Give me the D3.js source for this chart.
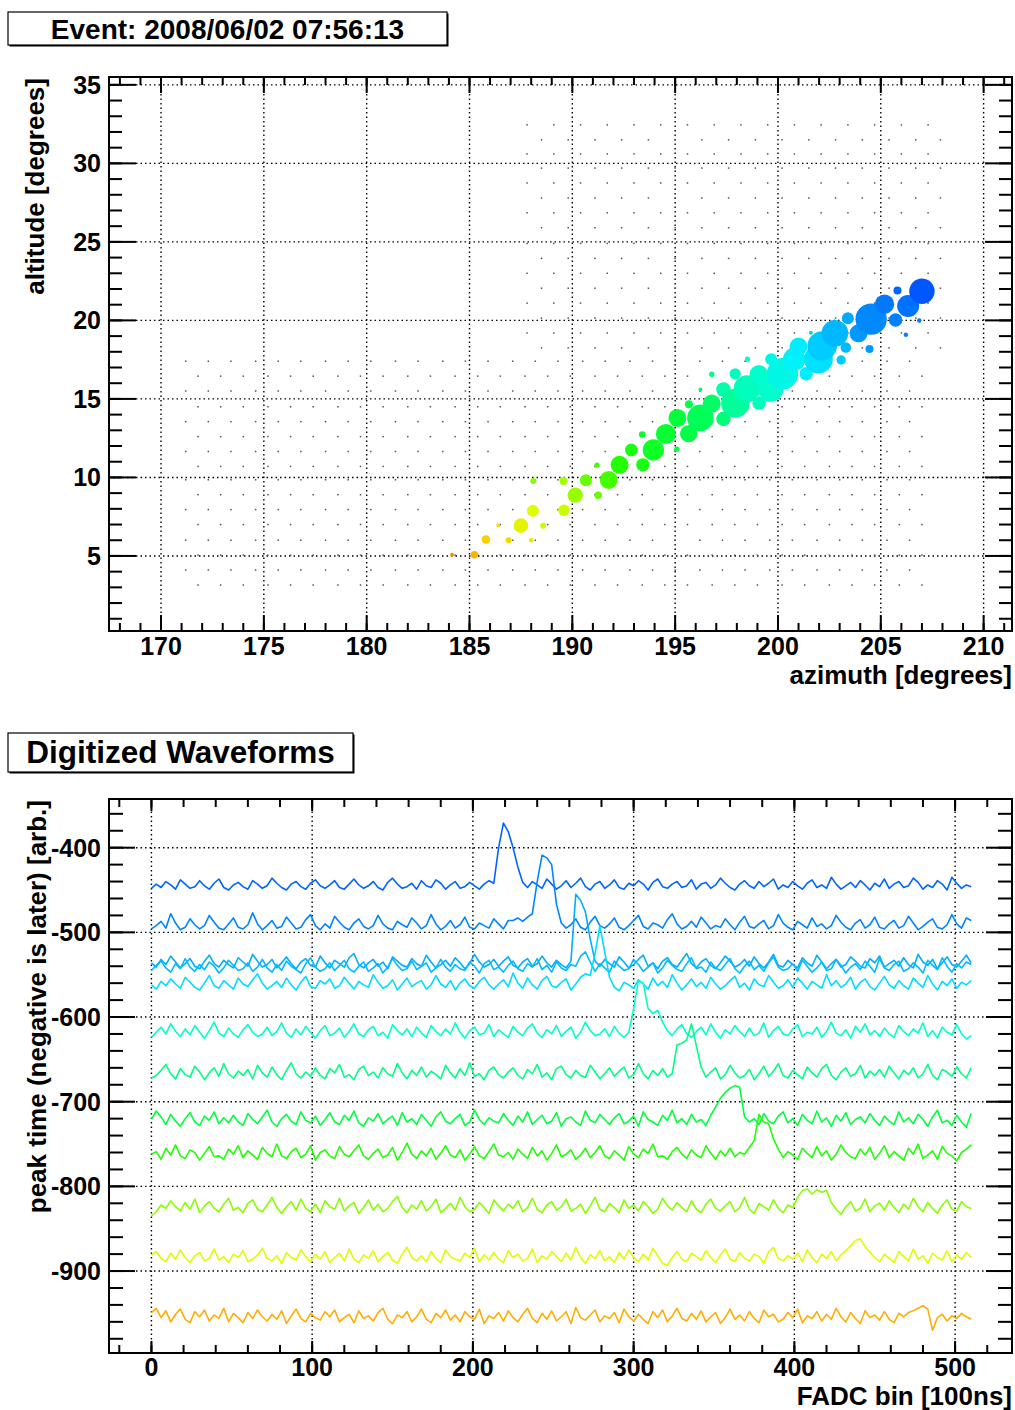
<!DOCTYPE html>
<html>
<head>
<meta charset="utf-8">
<script src="https://cdn.jsdelivr.net/npm/d3@7"></script>
<style>
  body { margin: 0; background: #fff; }
  text { font-family: "Liberation Sans", Arial, Helvetica, sans-serif; font-weight: bold; fill: #000; }
</style>
</head>
<body>
<svg id="chart" width="1015" height="1410"></svg>
<script>
// ---- event display data ----
const eventTitle = "Event: 2008/06/02 07:56:13";
const waveTitle = "Digitized Waveforms";

// camera pixel grid (tiny dots), rows of altitude and alternating azimuth columns
const upperAlts = [32.45, 31.5, 30.6, 29.7, 28.75, 27.8, 26.85, 25.9, 24.9, 23.95, 23.0, 22.05, 21.1, 20.15, 19.2, 18.25];
const upperAzEven = [187.8, 189.1, 190.4, 191.7, 193.0, 194.3, 195.6, 196.9, 198.2, 199.5, 200.8, 202.1, 203.4, 204.7, 206.0, 207.3];
const upperAzOdd = [188.5, 189.8, 191.1, 192.4, 193.7, 195.0, 196.3, 197.6, 198.9, 200.2, 201.5, 202.8, 204.1, 205.4, 206.7, 207.9];
const lowerAlts = [17.4, 16.45, 15.5, 14.5, 13.55, 12.6, 11.65, 10.7, 9.85, 8.9, 7.95, 7.0, 6.0, 5.05, 4.1, 3.15];
const lowerAzEven = [171.2, 172.3, 173.4, 174.6, 175.7, 176.8, 178.0, 179.1, 180.2, 181.4, 182.5, 183.7, 184.8, 185.9, 187.1, 188.2,
  189.3, 190.5, 191.6, 192.8, 193.9, 195.0, 196.2, 197.3, 198.4, 199.6, 200.7, 201.9, 203.0, 204.1, 205.3, 206.4];
const lowerAzOdd = [171.8, 172.9, 174.0, 175.2, 176.3, 177.4, 178.6, 179.7, 180.8, 182.0, 183.1, 184.3, 185.4, 186.5, 187.7, 188.8,
  189.9, 191.1, 192.2, 193.4, 194.5, 195.6, 196.8, 197.9, 199.0, 200.2, 201.3, 202.5, 203.6, 204.7, 205.9, 207.0];

// hit tubes: azimuth, altitude, signal, time (FADC bin)
const hitAz = [184.15, 185.24, 185.8, 186.4, 186.9, 187.5, 188.0, 188.08, 188.58, 188.1, 189.57, 189.59, 190.14, 190.66, 191.26, 191.2,
  191.77, 192.3, 192.87, 193.43, 193.94, 193.4, 194.55, 195.08, 195.11, 195.66, 195.67, 196.23, 196.23, 196.78, 196.78, 197.35,
  197.35, 197.92, 197.93, 198.49, 198.52, 199.08, 199.07, 199.67, 199.65, 200.22, 200.79, 201.0, 201.37, 201.6, 201.97, 202.15,
  202.77, 203.07, 203.3, 203.4, 203.92, 204.45, 204.53, 205.18, 205.72, 205.81, 206.22, 206.33, 206.87, 207.0];
const hitAlt = [5.08, 5.08, 6.04, 6.95, 6.0, 6.93, 6.0, 7.87, 6.93, 9.78, 9.78, 7.91, 8.87, 9.82, 8.87, 10.78,
  9.84, 10.8, 11.75, 10.8, 11.75, 12.73, 12.77, 11.8, 13.79, 12.79, 14.66, 13.79, 15.6, 14.7, 16.57, 13.73,
  15.6, 16.6, 14.73, 15.66, 17.53, 14.73, 16.57, 17.53, 15.63, 16.6, 17.53, 18.33, 16.6, 19.22, 17.53, 18.38,
  19.18, 17.48, 18.27, 20.14, 19.18, 18.18, 20.08, 21.03, 20.03, 21.9, 19.08, 20.92, 19.99, 21.86];
const hitSignal = [4, 14, 18, 4, 9, 53, 5, 36, 9, 9, 16, 32, 59, 36, 14, 7,
  81, 81, 40, 45, 114, 11, 100, 7, 81, 76, 16, 177, 4, 81, 7, 53,
  53, 32, 204, 177, 7, 45, 86, 36, 161, 246, 128, 81, 45, 4, 204, 216,
  177, 22, 28, 36, 81, 16, 246, 94, 45, 16, 5, 121, 5, 161];
const hitTime = [490, 478, 470, 462, 463, 447, 455, 440, 432, 410, 420, 432, 416, 400, 400, 390,
  390, 380, 376, 376, 372, 369, 369, 367, 367, 364, 360, 357, 350, 350, 335, 343,
  320, 312, 328, 312, 300, 312, 305, 295, 305, 295, 288, 285, 285, 275, 281, 275,
  269, 275, 270, 265, 255, 255, 245, 234, 240, 220, 240, 229, 234, 210];

// waveforms: baseline offset, pulse bin, and sample deviations every 3 FADC bins (bins 0..510)
const wfBinStep = 3;
const wfBaseline = [-445, -492, -538, -543, -563, -620, -669, -724, -764, -827, -886, -957];
const wfPeakBin = [219, 243, 266, 270, 280, 305, 336, 366, 379, 410, 441, 480];
const wfDev01 = [
  -3, 2, -2, 5, 1, -4, 7, 2, -3, -1, 6, 0, -4, 3, 8, -2, -5, 1, 4,
  -1, -4, 6, 2, -3, 0, 9, 3, -2, -5, 2, 5, -1, -4, 3, 7, 0, -3, 1,
  6, -2, -4, 2, 8, 1, -3, 0, 5, -2, -5, 4, 9, 2, -3, -1, 3, -4, 6,
  0, -2, 7, 3, -4, 1, 5, -3, -1, 4, 0, -4, 2, 6, 3, 45, 74, 64, 45,
  22, 4, -2, 5, 1, -3, 8, 2, -4, 0, 6, -2, 3, 9, -1, -5, 2, 5, -3,
  1, 7, -2, -4, 3, 0, 6, 2, -5, 4, 8, -1, -3, 2, 5, -2, 0, 7, -4,
  2, 4, -3, 1, 9, 3, -2, -5, 2, 6, 0, -3, 5, -1, 3, 8, -4, 1, -2,
  5, 0, -4, 3, 7, -2, 1, -3, 10, 2, -4, 0, 4, -2, 6, 1, -5, 3, -1,
  8, -3, 2, 5, -2, 0, 9, 4, -4, 1, -2, 6, 2, -5, 10, 3, -3, 1, -1];
const wfDev02 = [
  -4, 0, 5, -3, 14, 3, -5, -2, 8, 1, -4, 0, 12, 4, -3, -5, 2, 9, -2,
  -4, 1, 15, 2, -5, 0, 6, -3, -1, 10, 3, -4, -2, 7, 13, 0, -5, 2, -3,
  11, 4, -2, -5, 3, 8, -1, -4, 0, 12, 2, -3, -5, 5, 1, -2, 9, 3, -4,
  0, 13, 2, -5, -1, 6, -3, 1, 10, -2, -4, 3, 0, -3, 8, 2, -4, 6, 6,
  9, 5, 10, 14, 52, 83, 80, 72, 25, 3, -3, 1, 8, -2, -5, 4, 11, 0, -3,
  2, 9, -2, -5, 0, 6, 12, -1, -4, 3, 1, -3, 7, 14, 2, -4, -1, 5, -2,
  10, 3, -4, 0, -2, 8, 1, -5, 4, 11, -1, -3, 2, 6, -4, 0, 13, 3, -2,
  -5, 5, 1, -3, 9, -1, 2, -4, 0, 12, 4, -2, -5, 3, 7, -3, 1, 10, -2,
  -4, 2, 6, -3, 0, 11, 3, -5, -1, 4, 8, -2, -4, 1, 13, 2, -3, 9, 6];
const wfDev03 = [
  2, -3, 6, 0, 10, 3, -4, 1, 7, -2, -5, 4, 11, 1, -3, 5, 0, -4, 8,
  3, -2, 12, 4, -3, 0, 6, -4, 2, 9, 1, -5, 3, 7, -1, -3, 10, 2, -4,
  5, 1, -3, 8, 13, 0, -4, 2, 6, -2, 3, -5, 9, 4, -1, -3, 7, 1, -2,
  11, 3, -4, 0, 5, -2, 8, 2, -5, 1, 12, 3, -3, 0, 6, -2, 4, 9, -1,
  -4, 3, 7, -2, 1, 10, 2, -3, 5, 0, -4, 4, 83, 76, 62, 30, 4, -2, 6,
  1, -3, 9, 3, -4, 0, 6, 11, -2, 2, -5, 4, 8, 0, -3, 5, 13, 1, -4,
  3, 7, -1, -5, 2, 10, 4, -3, 0, 6, -2, 9, 1, -4, 3, 12, -1, -3, 5,
  0, -4, 8, 2, -2, 11, 3, -5, 1, 6, -3, 0, 9, 4, -2, -4, 7, 2, 10,
  -3, 1, 5, -2, 8, 0, -4, 12, 3, -1, 6, -5, 2, 9, 0, -3, 4, 11, 2];
const wfDev04 = [
  -2, 4, 9, 1, -4, 6, 0, 12, 2, -3, 5, -1, 8, 3, -5, 1, 10, 4, -2,
  0, 7, -3, 2, 11, 1, -4, 5, -2, 9, 3, -1, -5, 6, 13, 2, -3, 0, 7,
  -2, 4, 10, 0, -4, 3, 8, -3, 1, 6, -5, 2, 12, 4, -2, 0, 9, -1, 3,
  7, -4, 1, 11, 2, -3, 5, 0, -2, 8, 3, -5, 6, 10, -1, 2, -4, 4, 9,
  0, -3, 6, 2, 12, -1, 4, -4, 8, 1, -2, 5, 3, 15, 20, 8, -3, 6, 1,
  -4, 9, 3, -2, 0, 11, 5, -3, 2, 7, -5, 1, 10, 4, -1, -3, 6, 13, 0,
  2, -4, 8, 1, -2, 5, 12, 0, -5, 3, 9, -1, 4, -3, 7, 14, 2, -2, 0,
  6, -3, 10, 3, -4, 1, 8, -2, 0, 11, 4, -5, 2, 6, -1, 9, 3, -4, 12,
  1, -2, 5, 9, -3, 0, 7, 2, -5, 10, 4, -1, 13, 3, -4, 6, 1, 8, 5];
const wfDev05 = [
  1, -4, 5, 0, 8, 2, -3, 10, 4, -2, -5, 3, 12, 0, -3, 6, 1, -4, 9,
  2, -1, 7, 14, 3, -4, 0, 5, -2, 9, 1, -5, 4, 11, -1, -3, 6, 2, 8,
  -3, 0, 10, 3, -4, 5, 1, -2, 13, 4, -3, 0, 7, -5, 2, 9, -1, 3, 6,
  -4, 1, 12, 2, -2, 6, -5, 3, 8, 0, -3, 5, 10, 1, -4, 2, 7, -1, 15,
  3, -3, 9, 1, -4, 6, 11, 0, -2, 4, 8, -5, 2, 10, 14, 12, 38, 71, 40,
  10, -2, -6, 4, 1, -3, 7, 2, -4, 9, 0, 5, -2, 13, 3, -5, 1, 8, -1,
  4, -3, 10, 2, -4, 0, 6, 11, -2, 3, -5, 8, 1, -1, 12, 4, -3, 0, 7,
  -2, 9, 3, -4, 5, 1, -3, 13, 0, 6, -2, 2, 10, -4, 4, 8, -1, -5, 3,
  11, 1, -3, 6, 0, -4, 9, 3, -2, 12, 2, -5, 5, 0, 8, -3, 4, 1, 6];
const wfDev06 = [
  -4, 2, 8, 0, 12, 3, -3, 6, -1, 10, 2, -5, 4, 14, 1, -3, 7, 0, -4,
  5, 11, 2, -3, 0, 8, -2, 3, 13, 1, -4, 6, -1, 9, 2, -5, 4, 10, -2,
  1, 7, -4, 3, 12, 0, -3, 5, 9, -2, 2, -5, 11, 4, -1, 6, -3, 8, 1,
  -4, 10, 3, -2, 6, 0, 13, 2, -5, 4, 8, -1, 1, 11, -3, 5, 0, -4, 9,
  2, -2, 7, 12, 1, -4, 5, 0, 10, -3, 3, 8, -5, 2, 14, 4, -2, 0, 6,
  -3, 9, 1, -4, 2, 30, 63, 60, 30, 24, 28, 14, 4, -2, 6, 11, 0, -4, 3,
  8, -1, 12, 2, -5, 5, 0, 10, 3, -3, 7, -2, 1, 13, -4, 4, 9, 0, -2,
  6, 11, -3, 2, 0, 8, -4, 3, 14, 1, -2, 5, -5, 9, 2, 12, -1, 4, -3,
  7, 0, -4, 10, 3, -2, 6, 1, 13, -3, 4, -5, 8, 2, -1, 11, 0, -6, -2];
const wfDev07 = [
  -3, 0, 6, 13, 2, -4, 8, 1, -2, 11, 4, -5, 3, 9, -1, 14, 2, -3, 5,
  0, 7, -4, 12, 3, -2, 10, 1, -5, 6, 15, 2, -3, 4, -1, 9, 0, -4, 8,
  3, 13, -2, 1, -5, 7, 11, 0, 4, -3, 9, 2, -1, 14, 3, -4, 6, 0, 10,
  -2, 5, 1, -4, 12, 3, -3, 8, 0, 15, -1, 2, -5, 6, 10, 1, -3, 4, 9,
  0, -4, 7, 2, 13, -2, 3, -5, 8, 11, 1, -3, 6, 0, -2, 12, 4, -4, 2,
  9, -1, 5, 10, -3, 1, 14, 2, -4, 6, 0, 8, -2, 2, 36, 38, 42, 61, 35,
  10, -2, 4, 9, -4, 1, 12, 3, -3, 0, 7, -5, 2, 11, -1, 5, 14, 0, -3,
  6, 1, -4, 10, 3, -2, 8, 13, 0, -5, 4, 9, -1, 2, 12, -3, 5, 0, 7,
  -2, 11, 3, -4, 6, 1, 9, -3, 2, 13, 0, -5, 7, 4, -1, 10, 2, -3, 9];
const wfDev08 = [
  3, 13, 6, -3, 9, 1, -5, 4, 11, 0, -4, 7, 2, 12, -2, 5, -1, 8, 0,
  -4, 10, 3, -2, 6, 14, 0, -5, 4, 9, 1, -3, 12, 2, -1, 7, -4, 3, 11,
  0, -3, 8, 2, 13, -1, -5, 5, 1, 10, -2, 3, 7, -4, 11, 0, 4, -3, 9,
  2, -5, 6, 12, 1, -2, 4, 9, -4, 0, 14, 3, -3, 5, 1, -1, 10, 2, -4,
  7, 0, 12, -3, 3, 8, -2, 1, 11, -5, 4, 6, 0, -4, 13, 2, -1, 9, 3,
  -3, 5, 10, -2, 1, 7, -5, 12, 3, 0, -4, 8, 2, 14, -1, 4, -3, 9, 0,
  3, -4, 8, 18, 28, 35, 40, 43, 41, 6, 0, 4, -3, 10, 1, -2, 7, 12, -1,
  4, -4, 9, 2, -2, 13, 0, 5, -5, 8, 1, 11, -3, 3, 6, -1, 10, 2, -4,
  7, 1, -3, 12, 0, 5, -2, 9, 3, -5, 6, 14, -1, 2, -4, 8, 0, -6, 10];
const wfDev09 = [
  2, 5, -4, 9, 1, 13, 0, -3, 7, 4, -5, 3, 11, -1, 0, -4, 8, 2, 12,
  -2, 6, 1, -4, 10, 3, -1, 14, 0, -3, 5, 9, -2, 2, 12, -5, 4, 7, 0,
  -3, 11, 2, -1, 6, 13, 0, -4, 3, 8, -2, 1, 10, -5, 4, 15, 2, -3, 6,
  0, 9, -4, 3, 12, 1, -2, 7, -5, 2, 11, 0, -3, 5, 14, 1, -1, 4, -4,
  8, 2, -3, 10, 0, 6, -5, 3, 13, -1, 2, 7, -4, 1, 9, -2, 4, 12, 0,
  -3, 6, 1, -5, 11, 2, -2, 8, 3, 14, -1, 0, -4, 5, 10, 2, -3, 7, 1,
  -2, 12, 3, -4, 6, 0, 9, -1, 4, 2, 10, 18, 49, 40, 38, 20, 8, -2, 5,
  1, -4, 9, 3, -2, 11, 0, 6, -5, 2, 13, 4, -1, -3, 8, 1, 10, -4, 3,
  12, -2, 5, 0, -5, 9, 2, 14, -3, 1, 6, -4, 11, 3, 0, -6, 4, 8, 13];
const wfDev10 = [
  -8, -3, 5, 1, 10, 3, -2, 8, 0, 12, -4, 4, 9, 1, -3, 6, 13, -1, 2,
  -4, 7, 11, 0, -3, 5, 14, 2, -5, 3, 9, -1, 12, 1, -3, 6, -4, 10, 3,
  0, 13, -2, 4, 8, -5, 2, 11, -1, 6, -3, 1, 9, 15, 2, -4, 5, 0, 10,
  -2, 3, 12, -4, 1, 7, -1, 14, 3, -3, 0, 8, 2, -5, 11, 4, -2, 6, 1,
  10, -3, 2, 13, 0, -4, 5, 9, -1, 3, 12, -2, 1, 6, -5, 4, 14, 0, -3,
  7, 2, -4, 11, 1, 5, -2, 9, 3, -5, 0, 13, 4, -1, 8, 2, -3, 10, 0,
  -4, 6, 12, 1, -2, 4, 9, -3, 2, 14, 0, -5, 7, 3, -1, 11, 1, -4, 5,
  2, 14, 22, 24, 18, 23, 20, 22, 8, 0, -6, 3, 9, -2, 1, 12, -3, 4, 7,
  -1, 10, 2, -4, 6, 0, 13, 3, -3, 8, 1, -5, 5, 11, 0, -2, 9, 3, 1];
const wfDev11 = [
  5, 9, 1, -3, 7, 0, 11, 2, -4, 4, 8, -2, 1, 12, -1, 3, -4, 6, 2,
  10, -3, 0, 5, 13, 1, -2, 4, -5, 8, 2, -1, 11, 3, -3, 6, 0, 9, -4,
  2, 7, -2, 12, 0, -4, 5, 1, 10, -3, 3, 8, -1, -5, 6, 14, 2, -2, 4,
  -3, 9, 1, -4, 11, 3, 0, -2, 7, 2, 13, -3, 5, -1, 8, 0, -4, 10, 2,
  6, -2, 1, 12, -4, 4, 0, 9, 3, -3, 7, -1, 14, 2, -5, 5, 1, 10, -2,
  3, -4, 8, 0, 11, 2, -3, 6, -1, 13, 4, -5, -7, 2, 9, 0, -3, 7, 3,
  -1, 10, 2, -4, 5, 12, 0, -3, 8, 1, -2, 6, 3, -5, 9, 14, 1, -2, 4,
  0, 7, -3, 11, 2, -4, 6, 1, 9, -2, 5, 10, 16, 22, 24, 15, 8, 2, -3,
  6, 1, -4, 9, 3, -2, 12, 0, 4, -5, 7, 2, -1, 10, -3, 5, 0, 8, 2];
const wfDev12 = [
  8, 13, 2, 10, -3, 6, 12, 0, -4, 9, 3, 11, -2, 5, 1, 13, -3, 7, 2,
  -4, 8, 1, 11, 3, -2, 6, 0, 10, -5, 4, 12, 1, -3, 7, 2, -1, 9, 3,
  11, -3, 2, 6, -4, 10, 1, 4, -2, 8, 13, 0, -5, 5, 2, 9, -3, 3, 12,
  0, -4, 7, 2, 11, -1, 5, -3, 9, 3, 0, 12, -5, 4, 1, 8, -2, 10, 2,
  -3, 6, 13, 1, -4, 7, 0, 10, -2, 3, 9, -5, 14, 2, -1, 5, 11, -3, 4,
  1, 8, -4, 12, 3, -2, 6, 0, -5, 9, 2, 11, -3, 4, 13, 1, -2, 7, 0,
  10, -3, 3, 8, -5, 2, 12, 0, 5, -2, 9, 1, -4, 11, 3, 6, -3, 0, 8,
  2, 12, -4, 4, 1, 9, -2, 6, 0, 13, 3, -3, 8, 1, -5, 10, 2, 5, -1,
  9, 0, -4, 7, 3, 8, 10, 13, 16, 12, -13, 2, 6, -2, 4, 1, 7, 3, 0];
const wfDevs = [wfDev01, wfDev02, wfDev03, wfDev04, wfDev05, wfDev06, wfDev07, wfDev08, wfDev09, wfDev10, wfDev11, wfDev12];

// axis ticks
const azMajor = [170, 175, 180, 185, 190, 195, 200, 205, 210];
const altMajor = [5, 10, 15, 20, 25, 30, 35];
const binMajor = [0, 100, 200, 300, 400, 500];
const peakMajor = [-900, -800, -700, -600, -500, -400];

// time -> palette colour (ROOT-like rainbow, early = blue, late = orange)
const timeStops = [205, 220, 245, 265, 285, 305, 335, 365, 380, 410, 440, 470, 492];
const timeColors = ["#0050ff", "#0066ff", "#0088ff", "#00aaff", "#00eeff", "#00ffcc", "#00ff88", "#00ff44",
  "#22ff00", "#88ff00", "#ddff00", "#ffcc00", "#ff8800"];
const color = d3.scaleLinear().domain(timeStops).range(timeColors).clamp(true);

const svg = d3.select("#chart");
svg.append("rect").attr("width", 1015).attr("height", 1410).attr("fill", "#fff");

function titleBox(x, y, w, h, label, size, baseline) {
  svg.append("rect").attr("x", x + 1.5).attr("y", y + 1.5).attr("width", w).attr("height", h).attr("fill", "#000");
  svg.append("rect").attr("x", x).attr("y", y).attr("width", w).attr("height", h)
    .attr("fill", "#fff").attr("stroke", "#000").attr("stroke-width", 1.2);
  svg.append("text").attr("x", x + w / 2).attr("y", baseline).attr("text-anchor", "middle")
    .attr("font-size", size).text(label);
}

function drawGrid(g, x, y, xTicks, yTicks) {
  const [xa, xb] = x.range(), [ya, yb] = y.range();
  g.selectAll(".gx").data(xTicks).join("line").attr("class", "gx")
    .attr("x1", d => x(d)).attr("x2", d => x(d)).attr("y1", ya).attr("y2", yb);
  g.selectAll(".gy").data(yTicks).join("line").attr("class", "gy")
    .attr("x1", xa).attr("x2", xb).attr("y1", d => y(d)).attr("y2", d => y(d));
  g.selectAll("line").attr("stroke", "#000").attr("stroke-width", 1.4).attr("stroke-dasharray", "1.5,3");
}

function drawFrame(g, x, y, ax) {
  const [xa, xb] = x.range(), [ya, yb] = y.range();
  const ticks = [];
  ax.xMinor.forEach(v => ticks.push({ v, len: ax.xMinorLen, dir: "x" }));
  ax.xMajor.forEach(v => ticks.push({ v, len: ax.xMajorLen, dir: "x" }));
  ax.yMinor.forEach(v => ticks.push({ v, len: ax.yMinorLen, dir: "y" }));
  ax.yMajor.forEach(v => ticks.push({ v, len: ax.yMajorLen, dir: "y" }));
  const tx = ticks.filter(t => t.dir === "x" && x(t.v) > xa + 1 && x(t.v) < xb - 1);
  const ty = ticks.filter(t => t.dir === "y" && y(t.v) < ya - 1 && y(t.v) > yb + 1);
  const tk = g.append("g").attr("stroke", "#000").attr("stroke-width", 2);
  tk.selectAll(".tb").data(tx).join("line").attr("class", "tb")
    .attr("x1", d => x(d.v)).attr("x2", d => x(d.v)).attr("y1", ya).attr("y2", d => ya - d.len);
  tk.selectAll(".tt").data(tx).join("line").attr("class", "tt")
    .attr("x1", d => x(d.v)).attr("x2", d => x(d.v)).attr("y1", yb).attr("y2", d => yb + d.len);
  tk.selectAll(".tl").data(ty).join("line").attr("class", "tl")
    .attr("y1", d => y(d.v)).attr("y2", d => y(d.v)).attr("x1", xa).attr("x2", d => xa + d.len);
  tk.selectAll(".tr").data(ty).join("line").attr("class", "tr")
    .attr("y1", d => y(d.v)).attr("y2", d => y(d.v)).attr("x1", xb).attr("x2", d => xb - d.len);
  g.append("rect").attr("x", xa).attr("y", yb).attr("width", xb - xa).attr("height", ya - yb)
    .attr("fill", "none").attr("stroke", "#000").attr("stroke-width", 2);

  g.append("g").selectAll("text").data(ax.xMajor).join("text")
    .attr("x", d => x(d)).attr("y", ya + ax.xLabelOffset).attr("text-anchor", "middle")
    .attr("font-size", 25).text(d => d);
  g.append("g").selectAll("text").data(ax.yMajor).join("text")
    .attr("x", xa - 8).attr("y", d => y(d) + 9).attr("text-anchor", "end")
    .attr("font-size", 25).text(d => d);
  g.append("text").attr("x", xb).attr("y", ya + ax.xTitleOffset).attr("text-anchor", "end")
    .attr("font-size", 26).text(ax.xTitle);
  g.append("text").attr("transform", `translate(${ax.yTitleX},${yb + 1}) rotate(-90)`)
    .attr("text-anchor", "end").attr("font-size", 26).text(ax.yTitle);
}

// ---------------- top: event display ----------------
titleBox(8, 12, 439, 33, eventTitle, 28, 39);

const xAz = d3.scaleLinear().domain([167.47, 211.38]).range([109, 1012]);
const yAlt = d3.scaleLinear().domain([0.22, 35.5]).range([631, 77]);
const rSig = d3.scaleSqrt().domain([0, 256]).range([0, 16]);

const topG = svg.append("g");
drawGrid(topG.append("g"), xAz, yAlt, azMajor, altMajor);

const pixels = [];
upperAlts.forEach((alt, i) => (i % 2 ? upperAzOdd : upperAzEven).forEach(az => pixels.push({ az, alt })));
lowerAlts.forEach((alt, i) => (i % 2 ? lowerAzOdd : lowerAzEven).forEach(az => pixels.push({ az, alt })));
topG.append("g").selectAll("rect").data(pixels).join("rect")
  .attr("x", d => xAz(d.az) - 0.75).attr("y", d => yAlt(d.alt) - 0.75)
  .attr("width", 1.5).attr("height", 1.5).attr("fill", "#555");

const hits = hitAz.map((az, i) => ({ az, alt: hitAlt[i], sig: hitSignal[i], t: hitTime[i] }));
topG.append("g").selectAll("circle").data(hits).join("circle")
  .attr("cx", d => xAz(d.az)).attr("cy", d => yAlt(d.alt))
  .attr("r", d => rSig(d.sig)).attr("fill", d => color(d.t));

drawFrame(topG.append("g"), xAz, yAlt, {
  xMajor: azMajor, xMinor: d3.range(168, 212), xMajorLen: 16, xMinorLen: 8,
  yMajor: altMajor, yMinor: d3.range(1, 36), yMajorLen: 27, yMinorLen: 13,
  xLabelOffset: 24, xTitleOffset: 53, yTitleX: 44,
  xTitle: "azimuth [degrees]", yTitle: "altitude [degrees]"
});

// ---------------- bottom: waveforms ----------------
titleBox(8, 733, 345, 39, waveTitle, 31.5, 763);

const xBin = d3.scaleLinear().domain([-26.4, 535.4]).range([109, 1012]);
const yPeak = d3.scaleLinear().domain([-996.8, -342.5]).range([1353, 799]);

const botG = svg.append("g");
drawGrid(botG.append("g"), xBin, yPeak, binMajor, peakMajor);

const traces = wfDevs.map((dev, k) => ({
  color: color(wfPeakBin[k]),
  pts: dev.map((v, i) => [i * wfBinStep, wfBaseline[k] + v])
}));
const line = d3.line().x(d => xBin(d[0])).y(d => yPeak(d[1]));
botG.append("g").selectAll("path").data(traces).join("path")
  .attr("d", d => line(d.pts)).attr("fill", "none")
  .attr("stroke", d => d.color).attr("stroke-width", 1.6).attr("stroke-linejoin", "round");

drawFrame(botG.append("g"), xBin, yPeak, {
  xMajor: binMajor, xMinor: d3.range(-20, 540, 20), xMajorLen: 12, xMinorLen: 8,
  yMajor: peakMajor, yMinor: d3.range(-980, -340, 20), yMajorLen: 26, yMinorLen: 14,
  xLabelOffset: 23, xTitleOffset: 52, yTitleX: 46,
  xTitle: "FADC bin [100ns]", yTitle: "peak time (negative is later) [arb.]"
});
</script>
</body>
</html>
